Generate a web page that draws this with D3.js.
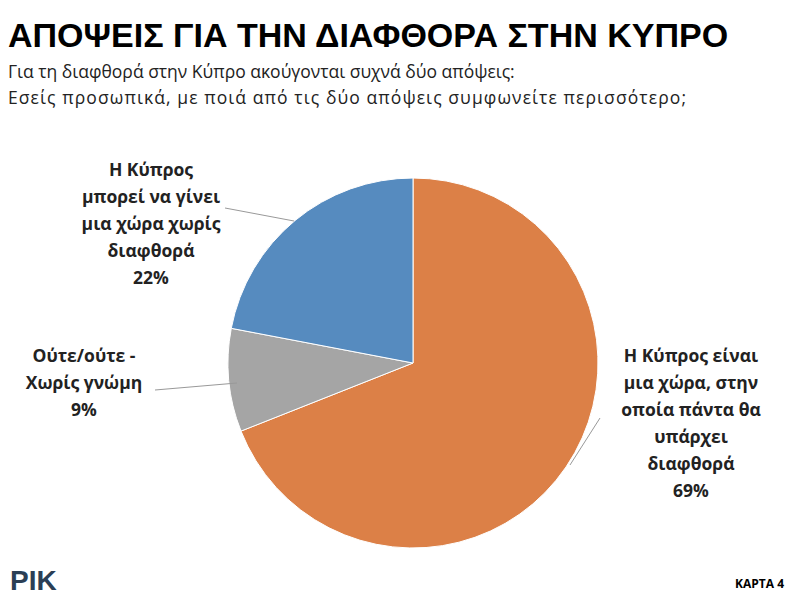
<!DOCTYPE html>
<html><head><meta charset="utf-8">
<script src="https://cdn.jsdelivr.net/npm/d3@7"></script>
<style>body{margin:0;background:#fff;font-family:"Open Sans","Liberation Sans",sans-serif}</style>
</head><body><svg id="c" width="800" height="600"></svg>
<script>
const labels = [
  ['Η Κύπρος είναι', 'μια χώρα, στην', 'οποία πάντα θα', 'υπάρχει', 'διαφθορά', '69%'],
  ['Ούτε/ούτε -', 'Χωρίς γνώμη', '9%'],
  ['Η Κύπρος', 'μπορεί να γίνει', 'μια χώρα χωρίς', 'διαφθορά', '22%']
];
const values = [69, 9, 22];
const colors = ['#DC8047', '#A5A5A5', '#568BBF'];
// label anchor centres and leader line points
const labelPos = [[691, 362], [84, 362], [151, 176]];
const leaders = [[[570, 465], [600, 418]], [[155, 390], [237, 383]], [[225, 208], [294, 221]]];

const svg = d3.select('#c');
svg.append('text').attr('x', 8).attr('y', 47).attr('font-size', 34).attr('font-weight', 'bold')
  .attr('font-family', 'Liberation Sans Narrow, Liberation Sans').text('ΑΠΟΨΕΙΣ ΓΙΑ ΤΗΝ ΔΙΑΦΘΟΡΑ ΣΤΗΝ ΚΥΠΡΟ');
svg.append('text').attr('x', 8).attr('y', 78).attr('font-size', 17.5).attr('fill', '#222')
  .text('Για τη διαφθορά στην Κύπρο ακούγονται συχνά δύο απόψεις:');
svg.append('text').attr('x', 8).attr('y', 104).attr('font-size', 17.5).attr('fill', '#222')
  .attr('textLength', 678).text('Εσείς προσωπικά, με ποιά από τις δύο απόψεις συμφωνείτε περισσότερο;');

const pie = d3.pie().sort(null)(values);
const arc = d3.arc().innerRadius(0).outerRadius(185);
const g = svg.append('g').attr('transform', 'translate(413,363)');
g.selectAll('path').data(pie).join('path').attr('d', arc)
  .attr('fill', (d, i) => colors[i]).attr('stroke', '#fff').attr('stroke-width', 1);

svg.selectAll('line.l').data(leaders).join('line')
  .attr('x1', d => d[0][0]).attr('y1', d => d[0][1]).attr('x2', d => d[1][0]).attr('y2', d => d[1][1])
  .attr('stroke', '#999').attr('stroke-width', 1);

labels.forEach((ls, i) => {
  const t = svg.append('text').attr('text-anchor', 'middle').attr('font-size', 17.5)
    .attr('font-weight', 'bold').attr('fill', '#222');
  ls.forEach((s, j) => t.append('tspan').attr('x', labelPos[i][0]).attr('y', labelPos[i][1] + j * 27).text(s));
});

svg.append('text').attr('x', 10).attr('y', 590).attr('font-size', 28).attr('font-weight', 'bold')
  .attr('fill', '#2b3f55').attr('font-family', 'Liberation Sans Narrow, Liberation Sans').text('ΡΙΚ');
svg.append('text').attr('x', 784).attr('y', 588).attr('text-anchor', 'end').attr('font-size', 12)
  .attr('font-weight', 'bold').text('ΚΑΡΤΑ 4');
</script></body></html>
